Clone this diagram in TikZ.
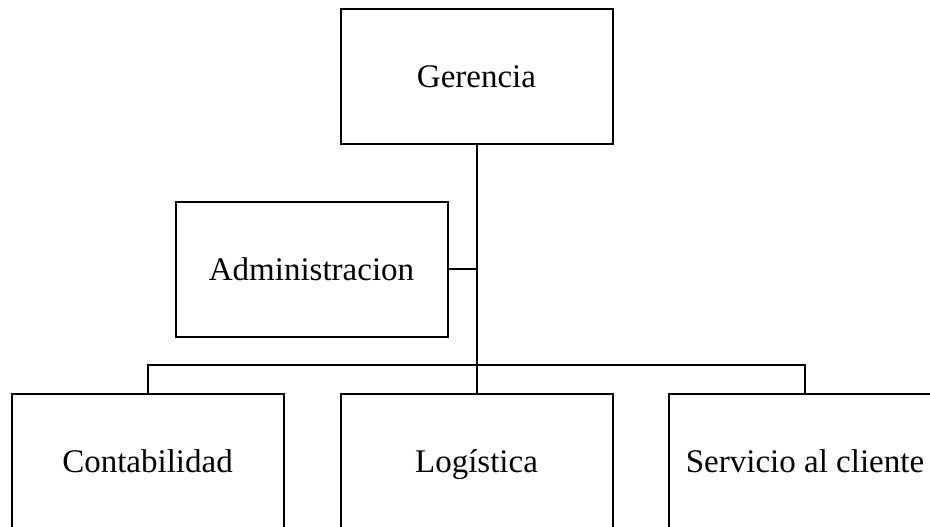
\documentclass[tikz,border=0pt]{standalone}
\usepackage{fontspec}
\setmainfont{Liberation Serif}

\begin{document}
\begin{tikzpicture}[x=0.5pt,y=-0.5pt]
\tikzstyle{every node}+=[inner sep=0pt]
\tikzstyle{unidad}=[draw=black, line width=1pt, minimum width=136pt, minimum height=67.5pt, text height=11pt, text depth=0pt, font=\fontsize{16.5}{19}\selectfont]

\useasboundingbox (0,0) rectangle (930,526);
\clip (0,0) rectangle (930,526);

\node [unidad] (ger) at (476.5,76.5) {Gerencia};
\node [unidad] (adm) at (311.5,269) {Administracion};

\node [unidad] (con) at (147.5,461.5) {Contabilidad};
\node [unidad] (log) at (476.5,461.5) {Log\'istica};
\node [unidad] (ser) at (805,461.5) {Servicio al cliente};

\coordinate (bus) at (476.5,365);
\draw [black, line width=1pt] (ger.south) -- (log.north);
\draw [black, line width=1pt] (adm.east) -- (adm.east -| log.north);
\draw [black, line width=1pt] (con.north) |- (bus) -| (ser.north);
\end{tikzpicture}
\end{document}
